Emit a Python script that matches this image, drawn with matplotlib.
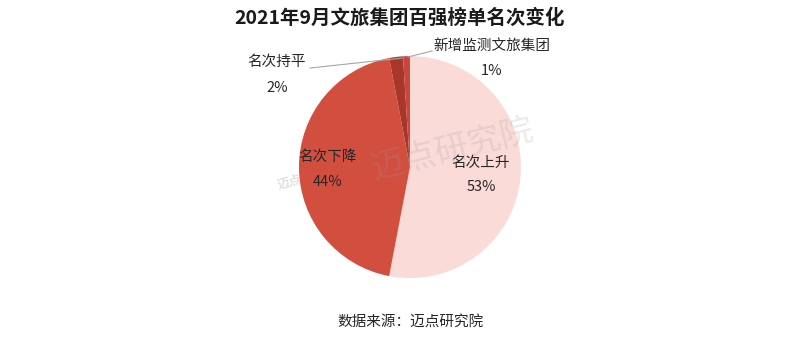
import matplotlib.pyplot as plt

plt.rcParams['font.family'] = ['Noto Sans CJK SC', 'DejaVu Sans']

title = "2021年9月文旅集团百强榜单名次变化"
source = "数据来源：迈点研究院"
categories = ["名次上升", "名次下降", "名次持平", "新增监测文旅集团"]
values = [53, 44, 2, 1]
colors = ["#FADBD8", "#D24F3F", "#A9362B", "#C8463A"]

fig = plt.figure(figsize=(8, 3.41), dpi=100)
ax = fig.add_axes([0.5125 - 0.1388, 0.51 - 0.3255, 0.2775, 0.651])
wedges, _ = ax.pie(values, colors=colors, startangle=90, counterclock=False,
                   wedgeprops=dict(linewidth=0))
ax.set_aspect("equal")
ax.set_xlim(-1.0, 1.0)
ax.set_ylim(-1.0, 1.0)

def px(x, y):
    return (x / 800, 1 - y / 341)

fs = 10.5
tc = "#262626"
# inside labels
fig.text(*px(481, 163), f"{categories[0]}", ha="center", va="center", fontsize=fs, color=tc)
fig.text(*px(481, 187), f"{values[0]}%", ha="center", va="center", fontsize=fs, color=tc)
fig.text(*px(328, 157), f"{categories[1]}", ha="center", va="center", fontsize=fs, color=tc)
fig.text(*px(328, 182), f"{values[1]}%", ha="center", va="center", fontsize=fs, color=tc)
# outside labels
fig.text(*px(277, 62), f"{categories[2]}", ha="center", va="center", fontsize=fs, color=tc)
fig.text(*px(277, 88), f"{values[2]}%", ha="center", va="center", fontsize=fs, color=tc)
fig.text(*px(492, 46), f"{categories[3]}", ha="center", va="center", fontsize=fs, color=tc)
fig.text(*px(492, 71), f"{values[3]}%", ha="center", va="center", fontsize=fs, color=tc)

# leader lines
from matplotlib.lines import Line2D
fig.add_artist(Line2D([310 / 800, 403 / 800], [1 - 68 / 341, 1 - 58 / 341],
                      transform=fig.transFigure, color="#A6A6A6", lw=0.8))
fig.add_artist(Line2D([432 / 800, 408 / 800], [1 - 51 / 341, 1 - 57 / 341],
                      transform=fig.transFigure, color="#A6A6A6", lw=0.8))

# watermark
fig.text(*px(452, 150), "迈点研究院", ha="center", va="center", fontsize=24,
         color="#9a9a9a", alpha=0.2, rotation=14)
fig.text(*px(290, 182), "迈点", ha="center", va="center", fontsize=9,
         color="#9a9a9a", alpha=0.3, rotation=14, fontweight="bold")

fig.text(0.5, 1 - 18 / 341, title, ha="center", va="center", fontsize=14,
         fontweight="bold", color="#1a1a1a")
fig.text(*px(411, 323), source, ha="center", va="center", fontsize=10.5, color=tc)

fig.savefig("out.png", dpi=100, facecolor="white")
